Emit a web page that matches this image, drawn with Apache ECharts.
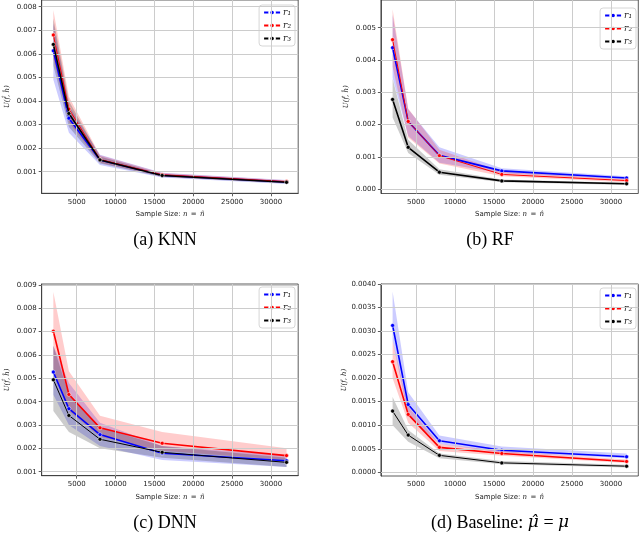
<!DOCTYPE html>
<html><head><meta charset="utf-8">
<script src="https://cdn.jsdelivr.net/npm/echarts@6/dist/echarts.min.js"></script>
<style>html,body{margin:0;padding:0;background:#fff}#c{width:640px;height:533px}</style>
</head><body><div id="c"></div><script>
// ---------- data ----------
const sampleSizes = [2000, 4000, 8000, 16000, 32000];
const xTicks = [5000, 10000, 15000, 20000, 25000, 30000];

// (a) KNN
const knnR1   = [0.00613, 0.00327, 0.00150, 0.00085, 0.00056];
const knnR1Lo = [0.00490, 0.00265, 0.00128, 0.00075, 0.00048];
const knnR1Hi = [0.00730, 0.00380, 0.00172, 0.00096, 0.00065];
const knnR2   = [0.00680, 0.00366, 0.00152, 0.00087, 0.00058];
const knnR2Lo = [0.00580, 0.00310, 0.00138, 0.00080, 0.00052];
const knnR2Hi = [0.00786, 0.00418, 0.00170, 0.00094, 0.00064];
const knnR3   = [0.00640, 0.00347, 0.00150, 0.00084, 0.00055];
const knnR3Lo = [0.00550, 0.00290, 0.00135, 0.00078, 0.00050];
const knnR3Hi = [0.00750, 0.00400, 0.00165, 0.00090, 0.00060];
const knnYTicks = [0.001, 0.002, 0.003, 0.004, 0.005, 0.006, 0.007, 0.008];

// (b) RF
const rfR1   = [0.00438, 0.00210, 0.00105, 0.00057, 0.00035];
const rfR1Lo = [0.00345, 0.00165, 0.00082, 0.00050, 0.00030];
const rfR1Hi = [0.00540, 0.00248, 0.00130, 0.00065, 0.00040];
const rfR2   = [0.00463, 0.00210, 0.00104, 0.00046, 0.00027];
const rfR2Lo = [0.00380, 0.00160, 0.00080, 0.00040, 0.00022];
const rfR2Hi = [0.00557, 0.00250, 0.00122, 0.00055, 0.00031];
const rfR3   = [0.00278, 0.00130, 0.00053, 0.00026, 0.00017];
const rfR3Lo = [0.00222, 0.00112, 0.00045, 0.00022, 0.00013];
const rfR3Hi = [0.00343, 0.00153, 0.00062, 0.00030, 0.00020];
const rfYTicks = [0.000, 0.001, 0.002, 0.003, 0.004, 0.005];

// (c) DNN
const dnnR1   = [0.00527, 0.00370, 0.00259, 0.00179, 0.00147];
const dnnR1Lo = [0.00430, 0.00300, 0.00210, 0.00150, 0.00120];
const dnnR1Hi = [0.00640, 0.00480, 0.00310, 0.00210, 0.00170];
const dnnR2   = [0.00702, 0.00431, 0.00288, 0.00222, 0.00169];
const dnnR2Lo = [0.00520, 0.00360, 0.00250, 0.00190, 0.00150];
const dnnR2Hi = [0.00870, 0.00530, 0.00340, 0.00270, 0.00200];
const dnnR3   = [0.00494, 0.00341, 0.00239, 0.00183, 0.00140];
const dnnR3Lo = [0.00360, 0.00270, 0.00200, 0.00160, 0.00120];
const dnnR3Hi = [0.00640, 0.00430, 0.00290, 0.00210, 0.00160];
const dnnYTicks = [0.001, 0.002, 0.003, 0.004, 0.005, 0.006, 0.007, 0.008, 0.009];

// (d) Baseline
const baseR1   = [0.00312, 0.00144, 0.00067, 0.00047, 0.00033];
const baseR1Lo = [0.00280, 0.00120, 0.00060, 0.00042, 0.00030];
const baseR1Hi = [0.00384, 0.00170, 0.00078, 0.00055, 0.00040];
const baseR2   = [0.00235, 0.00123, 0.00053, 0.00040, 0.00023];
const baseR2Lo = [0.00200, 0.00105, 0.00045, 0.00035, 0.00020];
const baseR2Hi = [0.00280, 0.00140, 0.00060, 0.00045, 0.00027];
const baseR3   = [0.00130, 0.00079, 0.00036, 0.00020, 0.00013];
const baseR3Lo = [0.00100, 0.00065, 0.00030, 0.00017, 0.00010];
const baseR3Hi = [0.00160, 0.00090, 0.00040, 0.00024, 0.00016];
const baseYTicks = [0.0000, 0.0005, 0.0010, 0.0015, 0.0020, 0.0025, 0.0030, 0.0035, 0.0040];

const seriesNames = ['r1', 'r2', 'r3'];
const seriesColors = ['#0000ff', '#ff0000', '#000000'];
const bandColors = ['rgba(0,0,255,0.2)', 'rgba(255,0,0,0.2)', 'rgba(0,0,0,0.2)'];

// ---------- layout ----------
const panels = [
  { grid: {left: 41.7, right: 341.8, top: 0, bottom: 339.7}, yMin: 0.0000836, yMax: 0.008284,
    yTicks: knnYTicks, dec: 3, yName: 'U(f\u0302, h\u0302)',
    sets: [[knnR1, knnR1Lo, knnR1Hi], [knnR2, knnR2Lo, knnR2Hi], [knnR3, knnR3Lo, knnR3Hi]],
    widths: [1.6, 1.0, 1.6], legend: {right: 345, top: 5} },
  { grid: {left: 380.9, right: 1.7, top: 0, bottom: 339.5}, yMin: -0.00013, yMax: 0.005857,
    yTicks: rfYTicks, dec: 3, yName: 'U(f\u0302, h\u0302)',
    sets: [[rfR1, rfR1Lo, rfR1Hi], [rfR2, rfR2Lo, rfR2Hi], [rfR3, rfR3Lo, rfR3Hi]],
    widths: [1.6, 1.0, 1.6], legend: {right: 4, top: 8} },
  { grid: {left: 41.7, right: 341.8, top: 284, bottom: 57.3}, yMin: 0.000829, yMax: 0.009043,
    yTicks: dnnYTicks, dec: 3, yName: 'U(f\u0302, h\u0302)',
    sets: [[dnnR1, dnnR1Lo, dnnR1Hi], [dnnR2, dnnR2Lo, dnnR2Hi], [dnnR3, dnnR3Lo, dnnR3Hi]],
    widths: [1.6, 1.6, 1.0], legend: {right: 345, top: 287} },
  { grid: {left: 380.9, right: 1.7, top: 284, bottom: 57}, yMin: -0.0000786, yMax: 0.0040,
    yTicks: baseYTicks, dec: 4, yName: 'U(f, h)',
    sets: [[baseR1, baseR1Lo, baseR1Hi], [baseR2, baseR2Lo, baseR2Hi], [baseR3, baseR3Lo, baseR3Hi]],
    widths: [1.6, 1.6, 1.0], legend: {right: 4, top: 288} }
];

const zip = (xs, ys) => xs.map((x, i) => [x, ys[i]]);
const tickFont = {fontFamily: 'DejaVu Sans', fontSize: 7, color: '#222'};
const axisCol = '#333';

const grids = [], xAxes = [], yAxes = [], series = [], legends = [];
panels.forEach((p, i) => {
  grids.push(Object.assign({show: true, borderColor: axisCol, borderWidth: 0.8, backgroundColor: 'transparent'}, p.grid));
  xAxes.push({
    type: 'value', gridIndex: i, min: 500, max: 33500,
    name: '{a|Sample Size: }{b|n} {a|=} {b|n\u0302}', nameLocation: 'middle', nameGap: 15,
    nameTextStyle: {rich: {a: {fontFamily: 'DejaVu Sans', fontSize: 7, color: '#222'},
                           b: {fontFamily: 'DejaVu Serif', fontStyle: 'italic', fontSize: 7, color: '#222'}}},
    axisLine: {show: true, lineStyle: {color: axisCol, width: 0.8}},
    axisTick: {show: true, length: 3, customValues: xTicks, lineStyle: {color: axisCol, width: 0.8}},
    axisLabel: Object.assign({customValues: xTicks, margin: 5, formatter: v => String(Math.round(v))}, tickFont),
    splitLine: {show: false}
  });
  yAxes.push({
    type: 'value', gridIndex: i, min: p.yMin, max: p.yMax,
    name: p.yName, nameLocation: 'middle', nameGap: 31,
    nameTextStyle: {fontFamily: 'DejaVu Serif', fontStyle: 'italic', fontSize: 7, color: '#222'},
    axisLine: {show: true, lineStyle: {color: axisCol, width: 0.8}},
    axisTick: {show: true, length: 3, customValues: p.yTicks, lineStyle: {color: axisCol, width: 0.8}},
    axisLabel: Object.assign({customValues: p.yTicks, margin: 5, formatter: v => Number(v).toFixed(p.dec)}, tickFont),
    splitLine: {show: false}
  });
  // grid lines through the library's scales
  series.push({
    type: 'line', name: '_grid' + i, xAxisIndex: i, yAxisIndex: i, data: [], z: 0, silent: true,
    markLine: {
      silent: true, symbol: 'none', animation: false, label: {show: false}, precision: 8,
      lineStyle: {color: '#cccccc', width: 1, type: 'solid'},
      emphasis: {disabled: true},
      data: xTicks.map(v => ({xAxis: v})).concat(p.yTicks.map(v => ({yAxis: v})))
    }
  });
  // bands
  p.sets.forEach((s, j) => {
    const lo = s[1], hi = s[2];
    series.push({
      type: 'custom', name: '_band' + i + j, xAxisIndex: i, yAxisIndex: i, z: 1, silent: true,
      data: [[sampleSizes[0], lo[0]]],
      renderItem: (params, api) => {
        const top = sampleSizes.map((x, k) => api.coord([x, hi[k]]));
        const bot = sampleSizes.map((x, k) => api.coord([x, lo[k]])).reverse();
        return {type: 'polygon', shape: {points: top.concat(bot)}, style: {fill: bandColors[j]}};
      }
    });
  });
  // lines
  p.sets.forEach((s, j) => {
    series.push({
      type: 'line', name: seriesNames[j], xAxisIndex: i, yAxisIndex: i,
      data: zip(sampleSizes, s[0]), symbol: 'circle', symbolSize: 4,
      lineStyle: {color: seriesColors[j], width: p.widths[j]},
      itemStyle: {color: seriesColors[j], borderColor: '#fff', borderWidth: 0.5},
      z: 3 + j
    });
  });
  legends.push(Object.assign({
    orient: 'vertical', data: seriesNames, itemWidth: 16, itemHeight: 7, itemGap: 4,
    padding: [3, 4, 3, 4], backgroundColor: 'rgba(255,255,255,0.85)', borderColor: '#cccccc',
    borderWidth: 0.8, borderRadius: 3, selectedMode: false,
    lineStyle: {type: 'solid'},
    formatter: n => 'r' + {r1: '\u2081', r2: '\u2082', r3: '\u2083'}[n],
    textStyle: {fontFamily: 'DejaVu Serif', fontStyle: 'italic', fontSize: 9, color: '#222', padding: [0, 0, 0, -2]}
  }, p.legend));
});

const titleFont = '18px "Liberation Serif"';
const graphic = [
  {type: 'text', style: {text: '(a) KNN', x: 165, y: 240, textAlign: 'center', textVerticalAlign: 'middle', font: titleFont, fill: '#000'}},
  {type: 'text', style: {text: '(b) RF', x: 490, y: 240, textAlign: 'center', textVerticalAlign: 'middle', font: titleFont, fill: '#000'}},
  {type: 'text', style: {text: '(c) DNN', x: 165, y: 523, textAlign: 'center', textVerticalAlign: 'middle', font: titleFont, fill: '#000'}},
  {type: 'text', style: {text: '{n|(d) Baseline: }{m|\u03bc\u0302}{n| = }{m|\u03bc}', x: 500, y: 523,
    textAlign: 'center', textVerticalAlign: 'middle', fill: '#000',
    rich: {n: {font: titleFont, fill: '#000'}, m: {font: 'italic 17px "DejaVu Serif"', fill: '#000'}}}}
];

const chart = echarts.init(document.getElementById('c'), null, {renderer: 'canvas'});
chart.setOption({
  animation: false, backgroundColor: '#fff',
  grid: grids, xAxis: xAxes, yAxis: yAxes, series: series, legend: legends, graphic: graphic
});
</script></body></html>
